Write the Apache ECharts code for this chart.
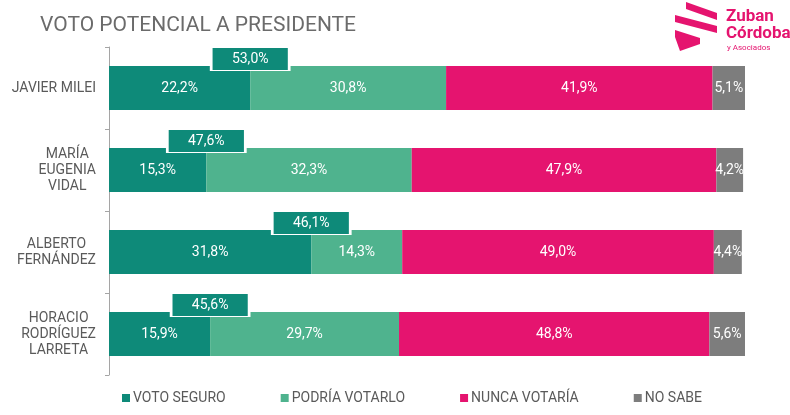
<!DOCTYPE html>
<html>
<head>
<meta charset="utf-8">
<script src="https://cdn.jsdelivr.net/npm/echarts@6/dist/echarts.min.js"></script>
<style>
	html, body { margin: 0; padding: 0; background: #fff; }
	#chart { width: 790px; height: 415px; }
</style>
</head>
<body>
<div id="chart"></div>
<script>
// datos
const candidatos = ['JAVIER MILEI', 'MARÍA\nEUGENIA\nVIDAL', 'ALBERTO\nFERNÁNDEZ', 'HORACIO\nRODRÍGUEZ\nLARRETA'];
const votoSeguro = [22.2, 15.3, 31.8, 15.9];
const podriaVotarlo = [30.8, 32.3, 14.3, 29.7];
const nuncaVotaria = [41.9, 47.9, 49.0, 48.8];
const noSabe = [5.1, 4.2, 4.4, 5.6];

const COLORS = ['#0e8a79', '#4fb38e', '#e5146f', '#7d7d7d'];
const FONT = 'Roboto';

function fmt(v) {
	return v.toFixed(1).replace('.', ',') + '%';
}

// total "voto potencial" = seguro + podría votarlo
let potencial = votoSeguro.map((v, i) => [v, i, +(v + podriaVotarlo[i]).toFixed(1)]);

function barSerie(name, data, color) {
	return {
		name: name,
		type: 'bar',
		stack: 'total',
		barWidth: 44,
		data: data,
		itemStyle: { color: color },
		label: {
			show: true,
			position: 'inside',
			color: '#fff',
			fontFamily: FONT,
			fontSize: 14,
			formatter: p => fmt(p.value)
		}
	};
}

let myChart = echarts.init(document.getElementById('chart'));

let option = {
	animation: false,
	title: {
		text: 'VOTO POTENCIAL A PRESIDENTE',
		left: 35,
		top: 10,
		textStyle: {
			color: '#6b6b6b',
			fontFamily: FONT,
			fontWeight: 'normal',
			fontSize: 21
		}
	},
	legend: {
		left: 117,
		bottom: 5,
		itemWidth: 8,
		itemHeight: 8,
		itemGap: 55,
		icon: 'rect',
		textStyle: {
			color: '#5a5a5a',
			fontFamily: FONT,
			fontSize: 14,
			padding: [0, 0, 0, -2]
		},
		data: ['VOTO SEGURO', 'PODRÍA VOTARLO', 'NUNCA VOTARÍA', 'NO SABE']
	},
	grid: {
		left: 109,
		right: 45,
		top: 47,
		bottom: 40
	},
	xAxis: {
		type: 'value',
		min: 0,
		max: 100,
		show: false
	},
	yAxis: {
		type: 'category',
		inverse: true,
		data: candidatos,
		axisLine: { lineStyle: { color: '#a5a5a5', width: 1 } },
		axisTick: { show: true, length: 4, lineStyle: { color: '#a5a5a5' } },
		axisLabel: {
			margin: 13,
			color: '#5a5a5a',
			fontFamily: FONT,
			fontSize: 14,
			lineHeight: 16,
			formatter: v => v.split('\n').map(s => '{c|' + s + '}').join('\n'),
			rich: {
				c: { align: 'center', color: '#5a5a5a', fontFamily: FONT, fontSize: 14, lineHeight: 16 }
			}
		}
	},
	series: [
		barSerie('VOTO SEGURO', votoSeguro, COLORS[0]),
		barSerie('PODRÍA VOTARLO', podriaVotarlo, COLORS[1]),
		barSerie('NUNCA VOTARÍA', nuncaVotaria, COLORS[2]),
		barSerie('NO SABE', noSabe, COLORS[3]),
		{
			// recuadro con el total
			type: 'scatter',
			z: 5,
			symbol: 'rect',
			symbolSize: [78, 23],
			symbolOffset: [0, -29],
			data: potencial,
			itemStyle: { color: COLORS[0], borderColor: '#fff', borderWidth: 1.5, opacity: 1 },
			label: {
				show: true,
				position: 'inside',
				color: '#fff',
				fontFamily: FONT,
				fontSize: 14,
				formatter: p => fmt(p.value[2])
			},
			emphasis: { disabled: true }
		}
	],
	graphic: [
		// logo
		{ type: 'polygon', shape: { points: [[686, 2], [717, 13], [717, 20], [686, 9]] }, style: { fill: '#e5146f' } },
		{ type: 'polygon', shape: { points: [[675, 15], [717, 26], [717, 33], [675, 22]] }, style: { fill: '#e5146f' } },
		{ type: 'polygon', shape: { points: [[675, 30], [700, 38], [700, 44], [680, 51], [675, 37]] }, style: { fill: '#e5146f' } },
		{ type: 'text', left: 726, top: 8, style: { text: 'Zuban', fill: '#e5146f', font: 'bold 17px Roboto' } },
		{ type: 'text', left: 726, top: 25, style: { text: 'Córdoba', fill: '#e5146f', font: 'bold 17px Roboto' } },
		{ type: 'text', left: 727, top: 44, style: { text: 'y Asociados', fill: '#e5146f', font: '8px Roboto' } }
	]
};

myChart.setOption(option);
</script>
</body>
</html>
